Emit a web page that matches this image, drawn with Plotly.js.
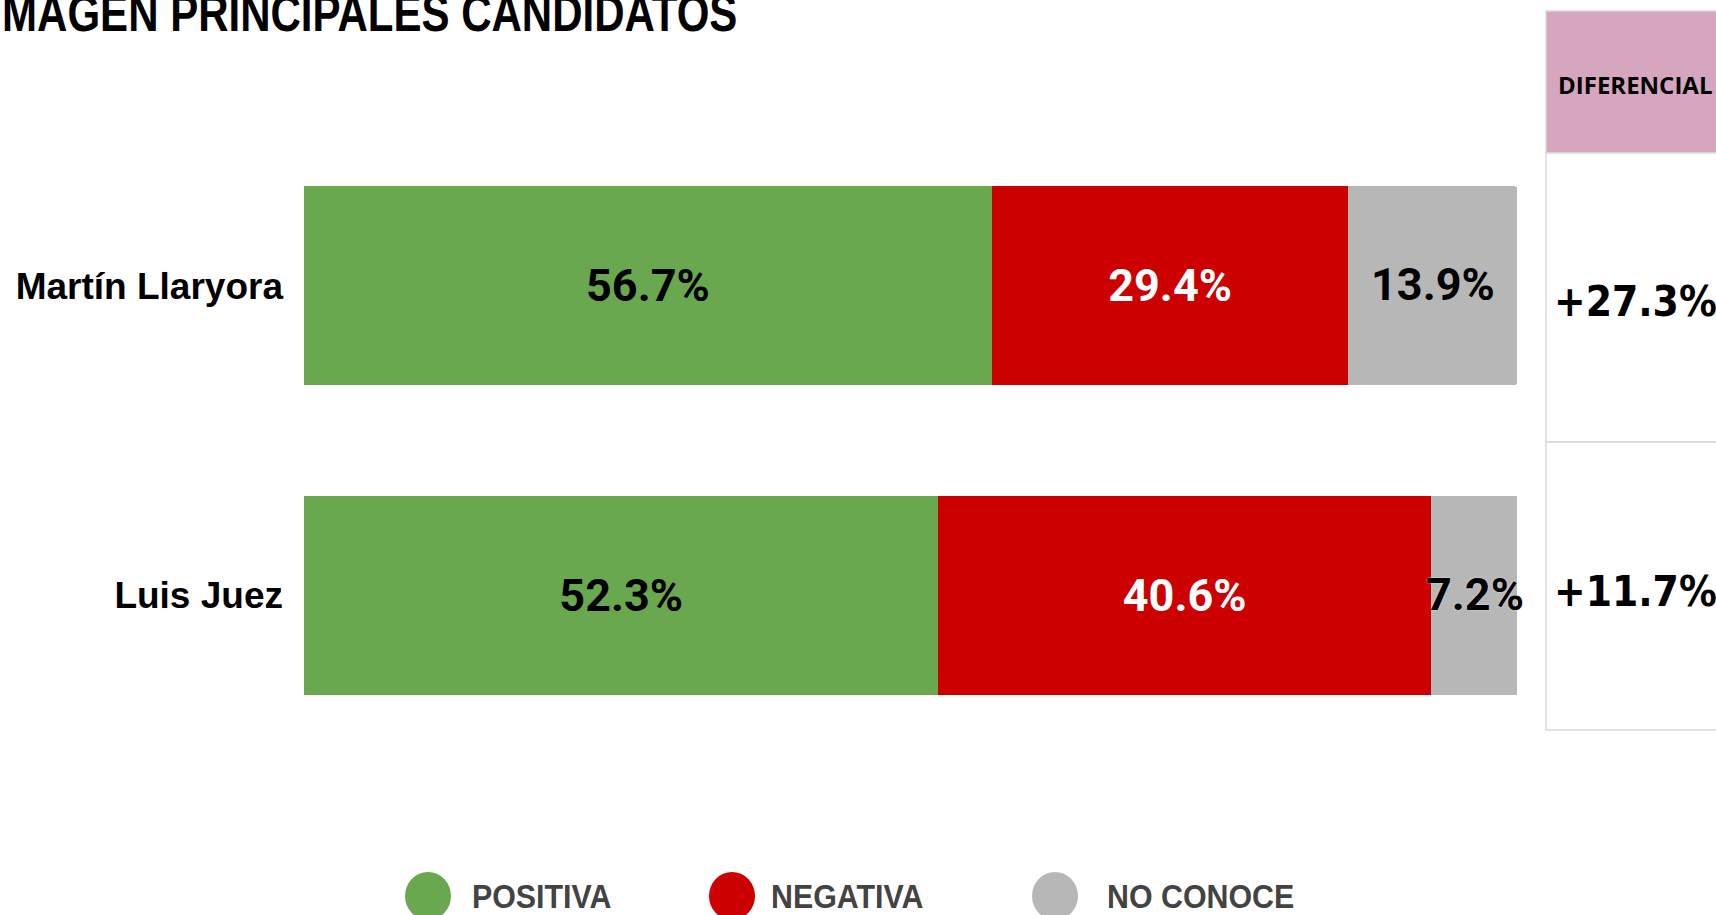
<!DOCTYPE html>
<html>
<head>
<meta charset="utf-8">
<script src="https://cdn.plot.ly/plotly-3.0.1.min.js"></script>
<style>
  html, body { margin: 0; padding: 0; background: #ffffff; }
  #chart { width: 1716px; height: 915px; }
</style>
</head>
<body>
<div id="chart"></div>
<script>
// ---- Data ----
const candidates = ['Luis Juez', 'Martín Llaryora'];
const positiva = [52.3, 56.7];
const negativa = [40.6, 29.4];
const noConoce = [7.2, 13.9];
const seriesNames = ['POSITIVA', 'NEGATIVA', 'NO CONOCE'];
const seriesColors = ['#6aa84f', '#cc0000', '#b7b7b7'];
const titleText = 'MAGEN PRINCIPALES CANDIDATOS';
const tableHeader = 'DIFERENCIAL';

// ---- Layout helpers (pixel -> paper) ----
const W = 1716, H = 915;
const M = { l: 304, r: 199, t: 131, b: 165 };
const PW = W - M.l - M.r, PH = H - M.t - M.b;
const px = x => (x - M.l) / PW;
const py = y => (H - M.b - y) / PH;

const textFont = (color) => ({ family: 'Roboto, sans-serif', size: 45, weight: 700, color: color });

const barSpecs = [
  { name: seriesNames[0], x: positiva, color: seriesColors[0], tc: '#000000', showText: true },
  { name: seriesNames[1], x: negativa, color: seriesColors[1], tc: '#ffffff', showText: true },
  { name: seriesNames[2], x: noConoce, color: seriesColors[2], tc: '#000000', showText: false }
];
const traces = barSpecs.map(s => ({
  type: 'bar',
  orientation: 'h',
  name: s.name,
  x: s.x,
  y: candidates,
  marker: { color: s.color, line: { width: 0 } },
  text: s.x.map(v => v.toFixed(1) + '%'),
  textposition: s.showText ? 'inside' : 'none',
  insidetextanchor: 'middle',
  constraintext: 'none',
  textfont: textFont(s.tc),
  hoverinfo: 'skip'
}));

// Differential table
const diffs = candidates.map((c, i) => positiva[i] - negativa[i]);
const rowCenters = { 'Martín Llaryora': 301, 'Luis Juez': 591 };

const shapes = [
  { type: 'rect', xref: 'paper', yref: 'paper', x0: px(1546), x1: px(1730), y0: py(153), y1: py(11),
    fillcolor: '#d5a6bd', line: { color: '#d9d9d9', width: 1.5 }, layer: 'below' },
  { type: 'rect', xref: 'paper', yref: 'paper', x0: px(1546), x1: px(1730), y0: py(442), y1: py(153),
    fillcolor: '#ffffff', line: { color: '#d9d9d9', width: 1.5 }, layer: 'below' },
  { type: 'rect', xref: 'paper', yref: 'paper', x0: px(1546), x1: px(1730), y0: py(730), y1: py(442),
    fillcolor: '#ffffff', line: { color: '#d9d9d9', width: 1.5 }, layer: 'below' }
];

const annotations = [
  { text: titleText, xref: 'paper', yref: 'paper', x: px(0), y: py(13), xanchor: 'left', yanchor: 'middle',
    showarrow: false, font: { family: 'Liberation Sans, Arial, sans-serif', size: 51, weight: 700, color: '#000000' } },
  { text: tableHeader, xref: 'paper', yref: 'paper', x: px(1635), y: py(84), xanchor: 'center', yanchor: 'middle',
    showarrow: false, font: { family: 'Open Sans, sans-serif', size: 24, weight: 700, color: '#000000' } }
];

// Labels of the "NO CONOCE" segments: centred on the segment through the data axes, allowed to overflow
candidates.forEach((c, i) => {
  const narrow = noConoce[i] < 10;
  annotations.push({
    text: noConoce[i].toFixed(1) + '%',
    xref: 'x', yref: 'y',
    x: positiva[i] + negativa[i] + noConoce[i] / 2,
    y: c,
    xanchor: 'center', yanchor: 'middle', yshift: 1,
    showarrow: false,
    font: Object.assign(textFont('#000000'), narrow ? { shadow: '0px 0px 2px rgba(255,255,255,0.7)' } : {})
  });
});

candidates.forEach((c, i) => {
  const d = diffs[i];
  annotations.push({
    text: (d >= 0 ? '+' : '') + d.toFixed(1) + '%',
    xref: 'paper', yref: 'paper', x: px(1635), y: py(rowCenters[c]), xanchor: 'center', yanchor: 'middle',
    showarrow: false, font: { family: 'DejaVu Sans Condensed, DejaVu Sans, sans-serif', size: 42, weight: 700, color: '#000000' }
  });
});

// Custom legend (circles + labels)
const legendPos = [
  { cx: 428, tx: 470 },
  { cx: 732, tx: 769 },
  { cx: 1055, tx: 1105 }
];
seriesNames.forEach((n, i) => {
  const p = legendPos[i];
  shapes.push({ type: 'circle', xref: 'paper', yref: 'paper',
    x0: px(p.cx - 23), x1: px(p.cx + 23), y0: py(896 + 24), y1: py(896 - 24),
    fillcolor: seriesColors[i], line: { width: 0 } });
  annotations.push({ text: n, xref: 'paper', yref: 'paper', x: px(p.tx), y: py(896), xanchor: 'left', yanchor: 'middle',
    showarrow: false, font: { family: 'Liberation Sans, Arial, sans-serif', size: 33, weight: 700, color: '#434343' } });
});

const layout = {
  width: W, height: H,
  margin: M,
  paper_bgcolor: '#ffffff',
  plot_bgcolor: '#ffffff',
  barmode: 'stack',
  bargap: 0.357,
  barcornerradius: 3,
  showlegend: false,
  xaxis: { range: [0, 100], showgrid: false, zeroline: false, showticklabels: false, showline: false, fixedrange: true },
  yaxis: {
    type: 'category', categoryorder: 'array', categoryarray: candidates,
    range: [-0.5, 1.5], showgrid: false, zeroline: false, showline: false, ticks: '',
    ticklabelstandoff: 20,
    tickfont: { family: 'Liberation Sans, Arial, sans-serif', size: 37, weight: 700, color: '#000000' },
    fixedrange: true
  },
  shapes: shapes,
  annotations: annotations
};

// Condensed look for the title and legend labels (horizontal squeeze of the real text)
const squeeze = { [titleText]: 0.824 };
seriesNames.forEach(n => { squeeze[n] = 0.92; });

Plotly.newPlot('chart', traces, layout, { displayModeBar: false, staticPlot: true }).then(gd => {
  gd.querySelectorAll('.annotation-text').forEach(el => {
    const k = squeeze[el.textContent];
    if (k) {
      el.style.transformBox = 'fill-box';
      el.style.transformOrigin = '0% 50%';
      el.style.transform = 'scaleX(' + k + ')';
    }
  });
});
</script>
</body>
</html>
